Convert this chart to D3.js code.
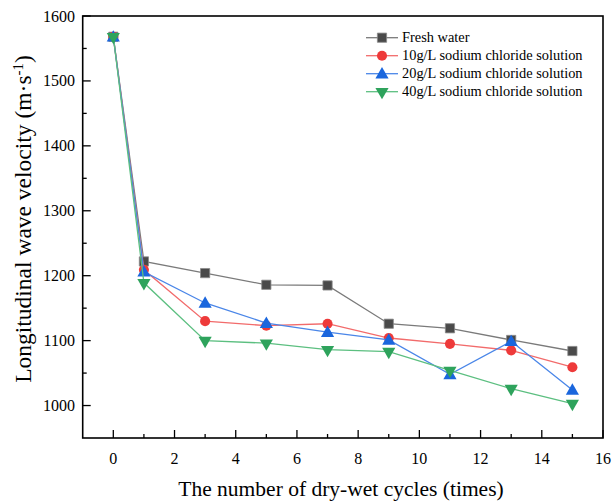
<!DOCTYPE html>
<html><head><meta charset="utf-8">
<script src="https://cdn.jsdelivr.net/npm/d3@7"></script>
<style>body{margin:0;background:#fff}svg{display:block}text{font-family:"Liberation Serif","Times New Roman",serif;fill:#000}</style>
</head><body><svg id="c" width="612" height="502"></svg>
<script>
const cycles = [0, 1, 3, 5, 7, 9, 11, 13, 15];
const freshWater = [1568, 1222, 1204, 1186, 1185, 1126, 1119, 1101, 1084];
const nacl10 = [1568, 1209, 1130, 1123, 1126, 1104, 1095, 1085, 1059];
const nacl20 = [1568, 1206, 1158, 1127, 1113, 1101, 1048, 1099, 1024];
const nacl40 = [1568, 1189, 1100, 1096, 1086, 1083, 1054, 1026, 1003];
const seriesNames = ["Fresh water", "10g/L sodium chloride solution", "20g/L sodium chloride solution", "40g/L sodium chloride solution"];
const xTicks = [0, 2, 4, 6, 8, 10, 12, 14, 16];
const yTicks = [1000, 1100, 1200, 1300, 1400, 1500, 1600];

const series = [
  {name: seriesNames[0], values: freshWater, line: "#7a7a7a", fill: "#4a4a4a", sym: "square"},
  {name: seriesNames[1], values: nacl10, line: "#f26b6b", fill: "#ee3a3a", sym: "circle"},
  {name: seriesNames[2], values: nacl20, line: "#4a86e8", fill: "#1a66dd", sym: "up"},
  {name: seriesNames[3], values: nacl40, line: "#5cbf80", fill: "#2ea35c", sym: "down"}
];

const svg = d3.select("#c");
const L = 82.7, R = 603, T = 16, B = 438;
const x = d3.scaleLinear().domain([-1, 16]).range([L, R]);
const y = d3.scaleLinear().domain([950, 1600]).range([B, T]);

const g = svg.append("g");
const xMinor = d3.range(1, 16, 2);
g.selectAll(".xmn").data(xMinor).enter().append("line")
  .attr("x1", d => x(d)).attr("x2", d => x(d)).attr("y1", B).attr("y2", B - 4)
  .attr("stroke", "#000").attr("stroke-width", 1.3);
g.selectAll(".xmj").data(xTicks).enter().append("line")
  .attr("x1", d => x(d)).attr("x2", d => x(d)).attr("y1", B).attr("y2", B - 8)
  .attr("stroke", "#000").attr("stroke-width", 1.3);
g.selectAll(".ymn").data(d3.range(1050, 1600, 100)).enter().append("line")
  .attr("x1", L).attr("x2", L + 4).attr("y1", d => y(d)).attr("y2", d => y(d))
  .attr("stroke", "#000").attr("stroke-width", 1.3);
g.selectAll(".ymj").data(yTicks).enter().append("line")
  .attr("x1", L).attr("x2", L + 8).attr("y1", d => y(d)).attr("y2", d => y(d))
  .attr("stroke", "#000").attr("stroke-width", 1.3);

g.selectAll(".xl").data(xTicks).enter().append("text")
  .attr("x", d => x(d)).attr("y", 464).attr("text-anchor", "middle")
  .attr("font-size", 16).text(d => d);
g.selectAll(".yl").data(yTicks).enter().append("text")
  .attr("x", 75).attr("y", d => y(d) + 5.5).attr("text-anchor", "end")
  .attr("font-size", 16).text(d => d);

svg.append("rect").attr("x", L).attr("y", T).attr("width", R - L).attr("height", B - T)
  .attr("fill", "none").attr("stroke", "#000").attr("stroke-width", 1.6);

svg.append("text").attr("x", 341).attr("y", 496).attr("text-anchor", "middle")
  .attr("font-size", 21.5).text("The number of dry-wet cycles (times)");
const yt = svg.append("text").attr("transform", "translate(31,219) rotate(-90)")
  .attr("text-anchor", "middle").attr("font-size", 23.5);
yt.append("tspan").text("Longitudinal wave velocity (m·s");
yt.append("tspan").attr("dy", -8).attr("font-size", 15).text("-1");
yt.append("tspan").attr("dy", 8).text(")");

function symPath(s) {
  if (s === "square") return d3.symbol(d3.symbolSquare, 85)();
  if (s === "circle") return d3.symbol(d3.symbolCircle, 80)();
  return d3.symbol(d3.symbolTriangle, 75)();
}
function drawMarker(sel, s, fill, cx, cy) {
  const p = sel.append("path").attr("d", symPath(s)).attr("fill", fill)
    .attr("stroke", s === "square" ? "#8a8a8a" : "none").attr("stroke-width", 0.8);
  if (s === "down") p.attr("transform", `translate(${cx},${cy}) rotate(180)`);
  else if (s === "up") p.attr("transform", `translate(${cx},${cy + 1})`);
  else p.attr("transform", `translate(${cx},${cy})`);
}

const line = d3.line().x(d => x(d[0])).y(d => y(d[1]));
series.forEach(s => {
  const pts = cycles.map((c, i) => [c, s.values[i]]);
  svg.append("path").attr("d", line(pts)).attr("fill", "none")
    .attr("stroke", s.line).attr("stroke-width", 1.3);
  const mg = svg.append("g");
  pts.forEach(p => drawMarker(mg, s.sym, s.fill, x(p[0]), y(p[1])));
});

const lg = svg.append("g");
series.forEach((s, i) => {
  const cy = 37.7 + i * 18;
  lg.append("line").attr("x1", 366).attr("x2", 398).attr("y1", cy).attr("y2", cy)
    .attr("stroke", s.line).attr("stroke-width", 1.3);
  drawMarker(lg, s.sym, s.fill, 382, cy);
  lg.append("text").attr("x", 402).attr("y", cy + 4.5).attr("font-size", 14.4).text(s.name);
});
</script></body></html>
